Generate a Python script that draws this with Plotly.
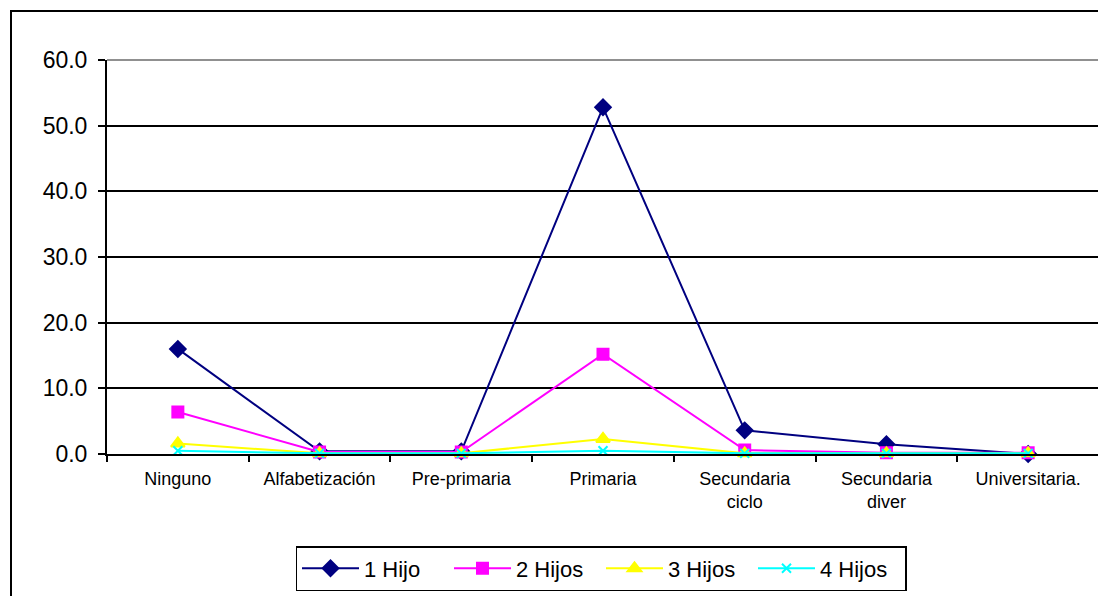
import plotly.graph_objects as go

categories = ["Ninguno", "Alfabetización", "Pre-primaria", "Primaria",
              "Secundaria<br>ciclo", "Secundaria<br>diver", "Universitaria."]
hijo1 = [16.0, 0.4, 0.4, 52.8, 3.6, 1.5, 0.0]
hijos2 = [6.4, 0.3, 0.3, 15.2, 0.6, 0.2, 0.2]
hijos3 = [1.6, 0.1, 0.1, 2.3, 0.1, 0.1, 0.1]
hijos4 = [0.5, 0.1, 0.1, 0.5, 0.1, 0.1, 0.1]
yticks = [0, 10, 20, 30, 40, 50, 60]

series = [
    ("1 Hijo", hijo1, "#000080", "diamond", 12),
    ("2 Hijos", hijos2, "#FF00FF", "square", 11),
    ("3 Hijos", hijos3, "#FFFF00", "triangle-up", 12),
    ("4 Hijos", hijos4, "#00FFFF", "x-thin-open", 9),
]

fig = go.Figure()
for name, vals, color, sym, sz in series:
    fig.add_trace(go.Scatter(
        x=categories, y=vals, name=name, mode="lines+markers",
        line=dict(color=color, width=2),
        marker=dict(symbol=sym, size=sz, color=color,
                    line=dict(color=color, width=2)),
        cliponaxis=False,
    ))

PH = 394.0
PW = 992.0
fig.update_layout(
    width=1106, height=596,
    margin=dict(l=99, r=15, t=52, b=150),
    paper_bgcolor="white", plot_bgcolor="white",
    font=dict(family="Liberation Sans, Arial, sans-serif", color="black"),
    showlegend=True,
    legend=dict(orientation="h", x=(601 - 107) / PW, xanchor="center",
                y=-92 / PH, yanchor="top",
                bordercolor="black", borderwidth=1.5, font=dict(size=22),
                itemwidth=57, entrywidth=80, entrywidthmode="pixels",
                tracegroupgap=0, bgcolor="white"),
)
fig.update_xaxes(
    type="category", tickson="boundaries", ticks="outside", ticklen=6,
    tickcolor="black", tickwidth=2, showline=True, linecolor="black", linewidth=2,
    showgrid=False, tickfont=dict(size=18), ticklabelstandoff=7,
    range=[-0.5, 6.5],
)
fig.update_yaxes(
    range=[0, 60], tickvals=yticks, tickformat=".1f", ticks="outside", ticklen=7,
    tickcolor="black", tickwidth=2, showline=True, linecolor="black", linewidth=2,
    showgrid=True, gridcolor="black", gridwidth=1.5, tickfont=dict(size=23),
    ticklabelstandoff=6, zeroline=False,
)
# outer chart frame
fig.add_shape(type="rect", xref="paper", yref="paper",
              x0=(11 - 107) / PW, x1=1.05, y0=-0.5, y1=1 + (60 - 11) / PH,
              line=dict(color="black", width=2), layer="below")
# gray plot-area border (top and right)
fig.add_shape(type="line", xref="paper", yref="paper", x0=0, x1=1, y0=1, y1=1,
              line=dict(color="#909090", width=2), layer="above")
fig.add_shape(type="line", xref="paper", yref="paper", x0=1, x1=1, y0=0, y1=1,
              line=dict(color="#909090", width=2), layer="above")

fig.write_html("out.html")
